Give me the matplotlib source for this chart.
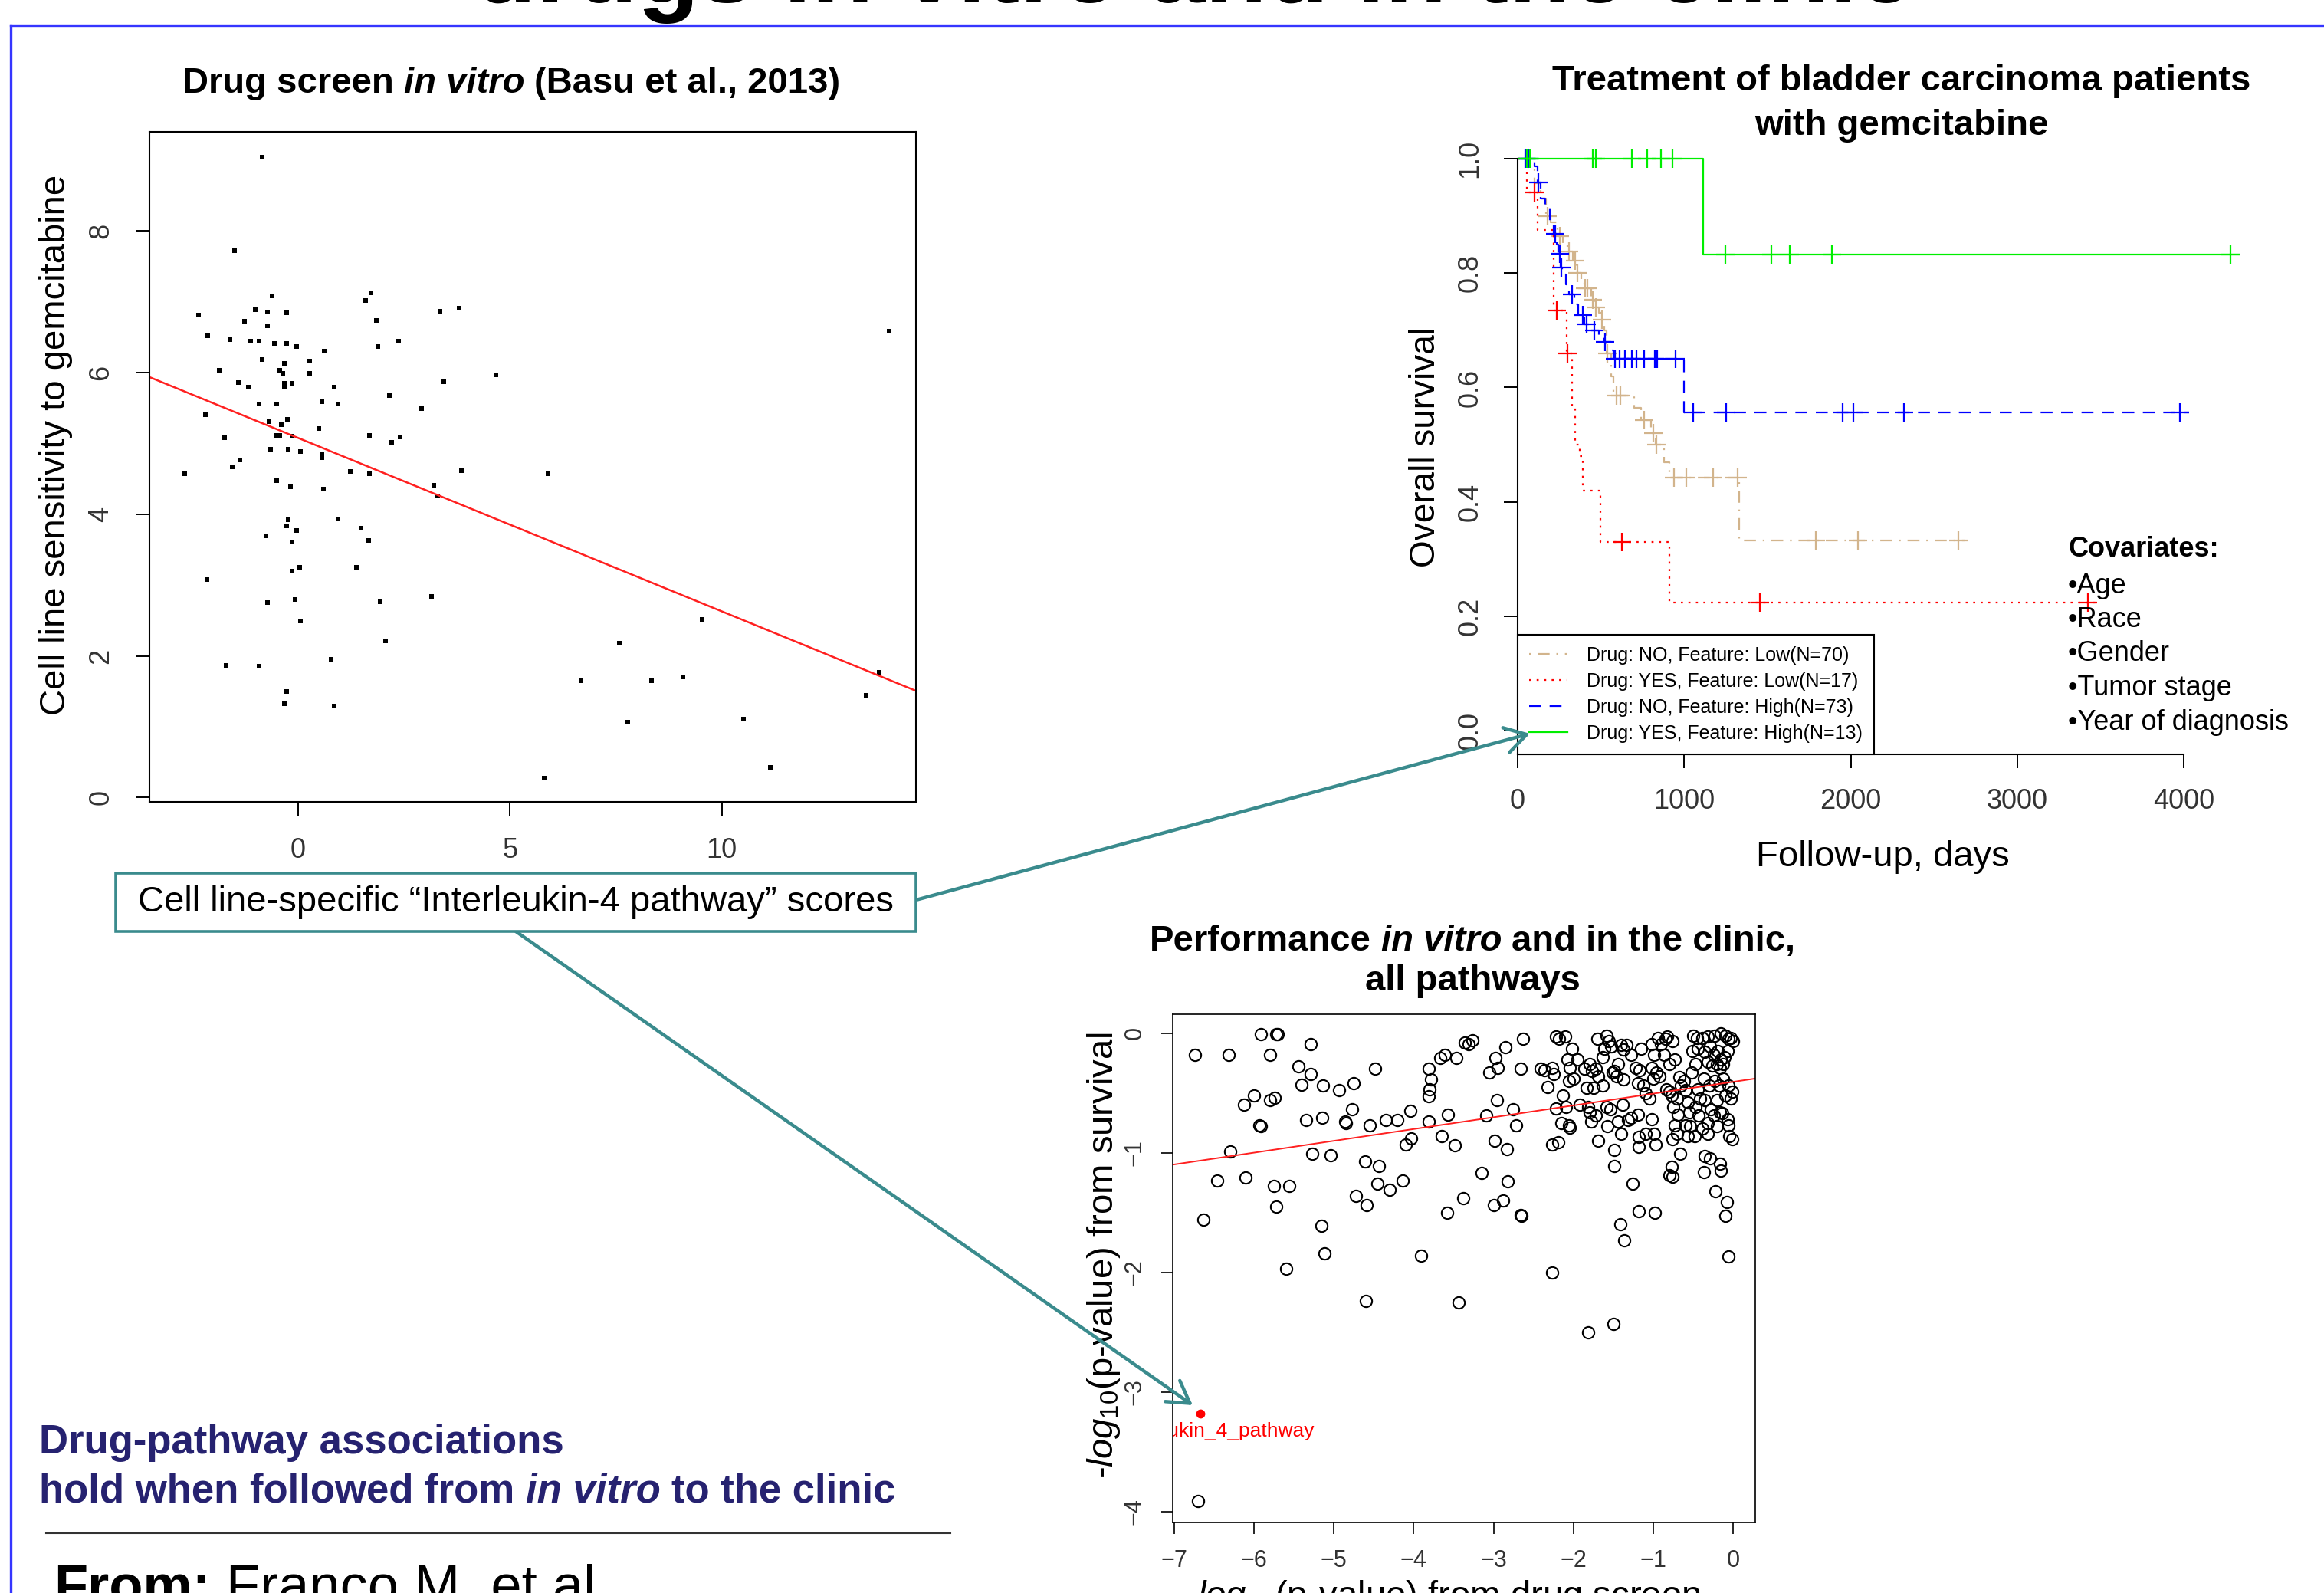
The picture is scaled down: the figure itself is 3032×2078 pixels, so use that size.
import numpy as np
import matplotlib.pyplot as plt
from matplotlib.lines import Line2D
from matplotlib.patches import FancyArrowPatch, Rectangle

plt.rcParams['font.family'] = ['Liberation Sans', 'DejaVu Sans']
plt.rcParams['mathtext.fontset'] = 'custom'
plt.rcParams['mathtext.rm'] = 'Liberation Sans'
plt.rcParams['mathtext.it'] = 'Liberation Sans:italic'

# --- Drug screen in vitro: pathway score vs gemcitabine sensitivity ---
il4_score = [-0.85, -1.5, -2.34, -2.12, -1.6, -1.11, -0.92, -1.26, -1.0, -0.72,
             -0.61, -0.27, -0.71, -0.55, -0.27, -0.03, -0.85, -0.32, -0.42, -0.36,
             -0.32, -0.13, -1.85, -1.4, -1.17, -0.91, -0.5, -0.32, 0.27, 0.27,
             0.63, 0.85, 0.56, 0.94, -2.18, -1.73, -0.68, -0.5, -0.39, -0.25,
             -0.42, -0.13, 0.49, -1.37, -1.54, -0.65, -0.22, 0.07, 0.56, 0.56,
             -2.67, -0.5, -0.17, 0.61, 1.24, 1.69, 1.69, 2.22, 2.41, 2.16,
             2.91, 1.6, 1.73, 1.85, 1.89, 2.37, 3.36, 3.8, 3.45, 4.68,
             3.2, 3.3, 3.85, 5.9, -0.76, -0.27, -0.22, -0.03, -0.13, 0.95,
             1.49, 1.67, 1.39, 0.04, -0.13, -2.14, -0.71, -0.07, 1.95, 3.16,
             0.06, 2.06, -1.69, -0.91, 0.79, -0.27, -0.32, 0.85, 9.54, 7.58,
             6.68, 8.35, 9.09, 7.78, 10.52, 11.15, 5.82, 13.41, 13.72, 13.95]
gem_sens = [9.04, 7.72, 6.81, 6.52, 6.47, 6.44, 6.45, 6.73, 6.89, 6.86,
            7.08, 6.85, 6.66, 6.41, 6.41, 6.37, 6.18, 6.13, 6.03, 5.99,
            5.85, 5.85, 6.03, 5.86, 5.8, 5.56, 5.56, 5.8, 6.16, 5.99,
            6.3, 5.8, 5.59, 5.56, 5.41, 5.08, 5.31, 5.11, 5.26, 5.34,
            5.11, 5.1, 5.21, 4.77, 4.67, 4.92, 4.92, 4.89, 4.85, 4.8,
            4.57, 4.48, 4.39, 4.36, 4.61, 4.57, 5.11, 5.02, 5.09, 5.68,
            5.49, 7.02, 7.13, 6.74, 6.37, 6.45, 6.87, 6.91, 5.87, 5.97,
            4.41, 4.26, 4.62, 4.57, 3.7, 3.84, 3.92, 3.77, 3.61, 3.93,
            3.8, 3.63, 3.25, 3.25, 3.2, 3.08, 2.75, 2.8, 2.77, 2.84,
            2.49, 2.21, 1.87, 1.86, 1.95, 1.5, 1.33, 1.29, 2.52, 2.18,
            1.65, 1.65, 1.7, 1.07, 1.11, 0.43, 0.28, 1.44, 1.77, 6.59]
screen_fit = (5.08, -0.245)   # intercept, slope

# --- Kaplan-Meier curves (step times / survival, end of follow-up, censor times) ---
km_labels = ['Drug: NO, Feature: Low(N=70)', 'Drug: YES, Feature: Low(N=17)',
             'Drug: NO, Feature: High(N=73)', 'Drug: YES, Feature: High(N=13)']
no_low_t = [0, 60, 100, 140, 170, 200, 240, 270, 300, 330, 350, 380, 400, 440,
            460, 490, 500, 520, 535, 560, 575, 700, 740, 800, 830, 880, 910, 1330]
no_low_s = [1.0, 0.986, 0.957, 0.93, 0.90, 0.889, 0.865, 0.851, 0.838, 0.821, 0.80,
            0.786, 0.774, 0.753, 0.74, 0.73, 0.718, 0.70, 0.66, 0.62, 0.586, 0.565,
            0.543, 0.52, 0.50, 0.47, 0.443, 0.333]
no_low_end = 2690
no_low_cens = [181, 253, 307, 343, 361, 405, 420, 452, 470, 506, 540, 596, 615,
               759, 813, 835, 940, 1012, 1174, 1319, 1789, 2042, 2645]

yes_low_t = [0, 55, 120, 215, 295, 325, 343, 375, 390, 499, 911]
yes_low_s = [1.0, 0.941, 0.875, 0.735, 0.66, 0.565, 0.50, 0.48, 0.42, 0.33, 0.224]
yes_low_end = 3470
yes_low_cens = [101, 235, 300, 625, 1453, 3425]

no_high_t = [0, 100, 118, 140, 165, 195, 215, 235, 245, 258, 265, 290, 310, 340,
             365, 400, 440, 490, 520, 560, 575, 1000]
no_high_s = [1.0, 0.986, 0.958, 0.93, 0.915, 0.89, 0.868, 0.85, 0.834, 0.81, 0.797,
             0.78, 0.763, 0.745, 0.727, 0.71, 0.70, 0.69, 0.68, 0.665, 0.65, 0.556]
no_high_end = 4030
no_high_cens = [45, 65, 126, 224, 253, 262, 325, 390, 415, 462, 524, 585, 614, 643,
                687, 715, 759, 824, 838, 947, 1055, 1254, 1951, 2016, 2320, 3975]

yes_high_t = [0, 1113]
yes_high_s = [1.0, 0.833]
yes_high_end = 4330
yes_high_cens = [54, 72, 452, 470, 687, 777, 860, 929, 1247, 1525, 1633, 1886, 4282]

covariates = ['Age', 'Race', 'Gender', 'Tumor stage', 'Year of diagnosis']

# --- all pathways: drug screen vs survival ---
drug_logp = [-6.74, -6.32, -5.92, -5.72, -5.70, -5.80, -5.29, -5.44, -5.29, -5.41,
             -5.14, -4.94, -4.75, -4.48, -6.00, -6.13, -5.80, -5.74, -5.93, -5.92,
             -5.35, -5.15, -4.86, -4.85, -4.77, -4.55, -4.35, -4.21, -4.04, -6.30,
             -5.27, -5.04, -6.46, -6.11, -5.75, -5.56, -5.72, -6.64, -5.16, -5.12,
             -5.60, -4.61, -4.44, -4.46, -4.30, -4.72, -4.59, -4.14, -4.10, -4.03,
             -4.60, -3.91, -3.44, -6.70,
             -3.81, -3.78, -3.80, -3.81, -3.67, -3.61, -3.47, -3.36, -3.31, -3.26,
             -3.81, -3.57, -3.65, -3.49, -3.58, -3.38, -3.15, -3.05, -2.98, -2.95,
             -2.85, -2.63, -2.66, -3.09, -2.96, -2.76, -2.72, -2.99, -2.83, -2.82,
             -3.00, -2.88, -2.66, -2.65, -2.27,
             -2.41, -2.36, -2.27, -2.25, -2.32, -2.22, -2.18, -2.10, -2.02, -2.07,
             -1.95, -2.04, -2.00, -2.05, -2.13, -2.09, -2.22, -2.15, -2.05, -2.04,
             -1.92, -2.27, -2.19, -1.83, -1.86, -1.79, -1.77, -1.72, -1.69, -1.75,
             -1.63, -1.81, -1.79, -1.78, -1.72, -1.69, -1.81, -1.70, -1.61, -1.58,
             -1.55, -1.63, -1.53,
             -1.51, -1.49, -1.46, -1.58, -1.54, -1.57, -1.49, -1.49, -1.50, -1.44,
             -1.40, -1.37, -1.33, -1.28, -1.37, -1.38, -1.44, -1.40, -1.31, -1.28,
             -1.41, -1.36, -1.26, -1.22, -1.19, -1.15, -1.17, -1.12, -1.09, -1.05,
             -1.19, -1.18, -1.18, -1.09, -1.02, -0.99, -0.97, -1.18, -0.98, -1.02,
             -0.99, -1.02, -0.96, -1.00, -0.92, -0.94, -0.90,
             -0.84, -0.82, -0.76, -0.86, -0.80, -0.73, -0.83, -0.77, -0.80, -0.70,
             -0.75, -0.69, -0.73, -0.76, -0.70, -0.77, -0.80, -0.76, -0.66, -0.67,
             -0.61, -0.65, -0.59, -0.57, -0.55, -0.59, -0.54, -0.57, -0.50, -0.45,
             -0.51, -0.44, -0.47, -0.52, -0.44, -0.41, -0.47, -0.43, -0.38, -0.48,
             -0.38, -0.32, -0.23, -0.15, -0.09, -0.06, -0.03, 0.00, -0.35, -0.29,
             -0.24, -0.19, -0.15, -0.10, -0.07, -0.32, -0.26, -0.20, -0.16, -0.12,
             -0.36, -0.30, -0.23, -0.17, -0.12, -0.06, -0.01, -0.09, -0.03, -0.35,
             -0.28, -0.20, -0.16, -0.24, -0.13, -0.32, -0.20, -0.07, -0.06, -0.05,
             -0.01, -0.32, -0.35, -0.29, -0.36, -0.16, -0.15, -0.22, -0.08, -0.09,
             -0.06]
surv_logp = [-0.18, -0.18, -0.01, -0.01, -0.01, -0.18, -0.09, -0.28, -0.34, -0.43,
             -0.44, -0.48, -0.42, -0.30, -0.52, -0.60, -0.56, -0.54, -0.77, -0.78,
             -0.73, -0.71, -0.74, -0.75, -0.64, -0.77, -0.73, -0.73, -0.65, -0.99,
             -1.01, -1.02, -1.23, -1.21, -1.28, -1.28, -1.45, -1.56, -1.61, -1.84,
             -1.97, -1.07, -1.11, -1.26, -1.31, -1.36, -1.44, -1.23, -0.93, -0.88,
             -2.24, -1.86, -2.25, -3.91,
             -0.30, -0.39, -0.47, -0.53, -0.21, -0.18, -0.21, -0.08, -0.09, -0.06,
             -0.74, -0.68, -0.86, -0.94, -1.50, -1.38, -1.17, -0.33, -0.21, -0.29,
             -0.12, -0.05, -0.30, -0.69, -0.56, -0.64, -0.77, -0.90, -0.97, -1.24,
             -1.44, -1.40, -1.52, -1.53, -2.00,
             -0.30, -0.31, -0.29, -0.34, -0.45, -0.03, -0.05, -0.03, -0.13, -0.22,
             -0.22, -0.29, -0.38, -0.40, -0.52, -0.62, -0.63, -0.75, -0.77, -0.79,
             -0.60, -0.93, -0.91, -0.46, -0.30, -0.26, -0.32, -0.30, -0.36, -0.46,
             -0.44, -0.62, -0.66, -0.74, -0.69, -0.90, -2.50, -0.05, -0.13, -0.02,
             -0.07, -0.20, -0.11,
             -0.33, -0.32, -0.36, -0.62, -0.64, -0.78, -0.98, -1.11, -2.43, -0.26,
             -0.10, -0.14, -0.10, -0.18, -0.39, -0.60, -0.74, -0.84, -0.73, -0.71,
             -1.60, -1.73, -1.26, -0.29, -0.42, -0.13, -0.31, -0.44, -0.50, -0.55,
             -0.68, -0.87, -0.95, -0.84, -0.72, -0.84, -0.93, -1.49, -1.50, -0.09,
             -0.18, -0.29, -0.33, -0.38, -0.36, -0.04, -0.09,
             -0.05, -0.03, -0.07, -0.18, -0.26, -0.22, -0.47, -0.52, -0.49, -0.55,
             -0.62, -0.68, -0.77, -0.89, -0.84, -1.12, -1.19, -1.20, -1.01, -0.37,
             -0.40, -0.44, -0.48, -0.58, -0.66, -0.77, -0.78, -0.86, -0.02, -0.04,
             -0.15, -0.13, -0.26, -0.33, -0.47, -0.55, -0.62, -0.69, -0.80, -0.86,
             -0.04, -0.03, -0.02, 0.00, -0.02, -0.05, -0.04, -0.07, -0.16, -0.11,
             -0.18, -0.15, -0.22, -0.20, -0.15, -0.24, -0.27, -0.26, -0.29, -0.26,
             -0.38, -0.44, -0.40, -0.44, -0.38, -0.44, -0.49, -0.52, -0.55, -0.56,
             -0.64, -0.56, -0.66, -0.69, -0.67, -0.75, -0.78, -0.72, -0.77, -0.86,
             -0.89, -0.84, -1.03, -1.05, -1.16, -1.09, -1.15, -1.32, -1.41, -1.53,
             -1.87]
il4_point = (-6.67, -3.18)
pathway_fit = (-0.408, 0.0986)   # intercept, slope

TEAL = '#3A8B8D'
NAVY = '#262270'
TICKC = '#333333'

W, H = 3032, 2078
fig = plt.figure(figsize=(W / 100, H / 100), dpi=100)


def fx(px):
    return px / W


def fy(py):
    return 1 - py / H


def axes_px(l, t, r, b):
    return fig.add_axes([fx(l), fy(b), (r - l) / W, (b - t) / H])


def rich_line(x_px, base_px, parts, size, color='black', align='center'):
    # text pieces with mixed styles on one baseline
    rend = fig.canvas.get_renderer()
    gap = 0.278 * size * fig.dpi / 72
    items = []
    for s, weight, style in parts:
        t = fig.text(0, fy(base_px), s, fontsize=size, fontweight=weight,
                     fontstyle=style, color=color, va='baseline', ha='left')
        items.append((t, t.get_window_extent(rend).width))
    total = sum(w for _, w in items) + gap * (len(items) - 1)
    x = x_px - total / 2 if align == 'center' else x_px
    for t, w in items:
        t.set_x(fx(x))
        x += w + gap


def surv_at(times, surv, t):
    idx = np.searchsorted(times, t, side='right') - 1
    return np.array(surv)[idx]


# ---------------- slide frame ----------------
fig.add_artist(Line2D([fx(14), 1], [fy(33), fy(33)], color='#3535FF', lw=2.4))
fig.add_artist(Line2D([fx(14), fx(14)], [fy(33), 0], color='#3535FF', lw=2.4))
fig.text(fx(619), fy(3), 'drugs in vitro and in the clinic', fontsize=95,
         fontweight='bold', ha='left', va='baseline')

# ---------------- left: drug screen scatter ----------------
ax1 = axes_px(195, 172, 1195, 1046)
ax1.plot(il4_score, gem_sens, 's', ms=4.4, color='black', mew=0)
ax1.axline((0, screen_fit[0]), slope=screen_fit[1], color='#FF2020', lw=1.8)
ax1.set_xlim(-3.5, 14.58)
ax1.set_ylim(-0.06, 9.4)
ax1.set_xticks([0, 5, 10])
ax1.set_yticks([0, 2, 4, 6, 8], ['0', '2', '4', '6', '8'], rotation=90, va='center')
ax1.tick_params(direction='out', length=13, width=1.4, labelsize=26,
                labelcolor=TICKC, pad=20)
for sp in ax1.spines.values():
    sp.set_linewidth(1.5)

rich_line(667, 121, [('Drug screen', 'bold', 'normal'), ('in vitro', 'bold', 'italic'),
                     ('(Basu et al., 2013)', 'bold', 'normal')], 34)
fig.text(fx(73), fy(580), 'Cell line sensitivity to gemcitabine', fontsize=34,
         rotation=90, ha='center', va='center')

# ---------------- right: Kaplan-Meier ----------------
ax2 = axes_px(1980, 177, 2936, 984)
km_sets = [(no_low_t, no_low_s, no_low_end, no_low_cens, '#D2B48C', (1, 4, 7, 4)),
           (yes_low_t, yes_low_s, yes_low_end, yes_low_cens, '#FF0000', (1.2, 3.2)),
           (no_high_t, no_high_s, no_high_end, no_high_cens, '#0000FF', (7, 5)),
           (yes_high_t, yes_high_s, yes_high_end, yes_high_cens, '#00EE00', None)]
handles = []
for times, surv, end, cens, col, dash in km_sets:
    kw = {'dashes': dash} if dash else {}
    ax2.step(list(times) + [end], list(surv) + [surv[-1]], where='post',
             color=col, lw=1.6, **kw)
    ax2.plot(cens, surv_at(times, surv, cens), '+', color=col, ms=17, mew=1.6)
    handles.append(Line2D([], [], color=col, lw=1.6, **kw))
ax2.set_xlim(0, 4400)
ax2.set_ylim(-0.041, 1.04)
ax2.set_xticks([0, 1000, 2000, 3000, 4000])
ax2.set_yticks([0, 0.2, 0.4, 0.6, 0.8, 1.0],
               ['0.0', '0.2', '0.4', '0.6', '0.8', '1.0'], rotation=90, va='center')
ax2.tick_params(direction='out', length=13, width=1.4, labelsize=26,
                labelcolor=TICKC, pad=19)
ax2.spines['top'].set_visible(False)
ax2.spines['right'].set_visible(False)
ax2.spines['left'].set_bounds(0, 1)
ax2.spines['bottom'].set_bounds(0, 4000)
for sp in ax2.spines.values():
    sp.set_linewidth(1.5)
leg = ax2.legend(handles, km_labels, loc='lower left', bbox_to_anchor=(0, 0),
                 borderaxespad=0, fancybox=False, edgecolor='black', framealpha=1,
                 fontsize=18, handlelength=2.0, handletextpad=1.0, borderpad=0.6,
                 labelspacing=0.4)
leg.get_frame().set_linewidth(1.5)

fig.text(fx(2481), fy(106), 'Treatment of bladder carcinoma patients', fontsize=34,
         fontweight='bold', ha='center', va='center')
fig.text(fx(2481), fy(164), 'with gemcitabine', fontsize=34,
         fontweight='bold', ha='center', va='center')
fig.text(fx(1860), fy(583), 'Overall survival', fontsize=33, rotation=90,
         ha='center', va='center')
fig.text(fx(2456), fy(1118), 'Follow-up, days', fontsize=34, ha='center', va='center')
fig.text(fx(2698), fy(717), 'Covariates:', fontsize=26, fontweight='bold',
         ha='left', va='center')
for i, c in enumerate(covariates):
    fig.text(fx(2698), fy(764 + 44.5 * i), '\u2022' + c, fontsize=26,
             ha='left', va='center')

# ---------------- bottom: all pathways ----------------
ax3 = axes_px(1530, 1323, 2290, 1986)
ax3.plot(drug_logp, surv_logp, 'o', mfc='none', mec='black', ms=11, mew=1.5)
ax3.axline((0, pathway_fit[0]), slope=pathway_fit[1], color='#FF2020', lw=1.4)
ax3.plot([il4_point[0]], [il4_point[1]], 'o', color='#FF0000', ms=7.5)
ax3.text(-5.24, il4_point[1] - 0.15, 'Interleukin_4_pathway', color='#FF0000',
         fontsize=19, ha='right', va='center', clip_on=True)
ax3.set_xlim(-7.02, 0.28)
ax3.set_ylim(-4.09, 0.157)
ax3.set_xticks(range(-7, 1))
ax3.set_yticks([-4, -3, -2, -1, 0], ['\u22124', '\u22123', '\u22122', '\u22121', '0'],
               rotation=90, va='center')
ax3.tick_params(direction='out', length=11, width=1.2, labelsize=22,
                labelcolor=TICKC, pad=14)
for sp in ax3.spines.values():
    sp.set_linewidth(1.2)

rich_line(1921, 1240, [('Performance', 'bold', 'normal'), ('in vitro', 'bold', 'italic'),
                       ('and in the clinic,', 'bold', 'normal')], 34)
fig.text(fx(1921), fy(1280), 'all pathways', fontsize=34, fontweight='bold',
         ha='center', va='center')
fig.text(fx(1440), fy(1638), r'-$\mathit{log}_{10}$(p-value) from survival',
         fontsize=34, rotation=90, ha='center', va='center')
fig.text(fx(1890), fy(2095), r'$\mathit{log}_{10}$(p-value) from drug screen',
         fontsize=34, ha='center', va='baseline')

# ---------------- annotation box and arrows ----------------
for start, end in [((1195, 1174), (1996, 957)), ((673, 1215), (1556, 1833))]:
    fig.add_artist(FancyArrowPatch((fx(start[0]), fy(start[1])), (fx(end[0]), fy(end[1])),
                                   transform=fig.transFigure, arrowstyle='->,head_length=0.5,head_width=0.3',
                                   mutation_scale=40, color=TEAL, lw=3.2,
                                   shrinkA=0, shrinkB=0, zorder=4))
fig.add_artist(Rectangle((fx(151), fy(1215)), (1195 - 151) / W, (1215 - 1139) / H,
                         transform=fig.transFigure, facecolor='white', edgecolor=TEAL,
                         lw=2.6, zorder=5))
fig.text(fx(673), fy(1177), 'Cell line-specific \u201cInterleukin-4 pathway\u201d scores',
         fontsize=34, ha='center', va='center', zorder=6)

# ---------------- bottom-left text ----------------
rich_line(51, 1896, [('Drug-pathway associations', 'bold', 'normal')], 38,
          color=NAVY, align='left')
rich_line(51, 1959, [('hold when followed from', 'bold', 'normal'),
                     ('in vitro', 'bold', 'italic'),
                     ('to the clinic', 'bold', 'normal')], 38, color=NAVY, align='left')
fig.add_artist(Line2D([fx(60), fx(1240)], [fy(2000), fy(2000)], color='#333333', lw=1.5))
rich_line(70, 2092, [('From:', 'bold', 'normal'), ('Franco M. et al', 'normal', 'normal')], 52,
          align='left')

fig.savefig('out.png', dpi=100)
